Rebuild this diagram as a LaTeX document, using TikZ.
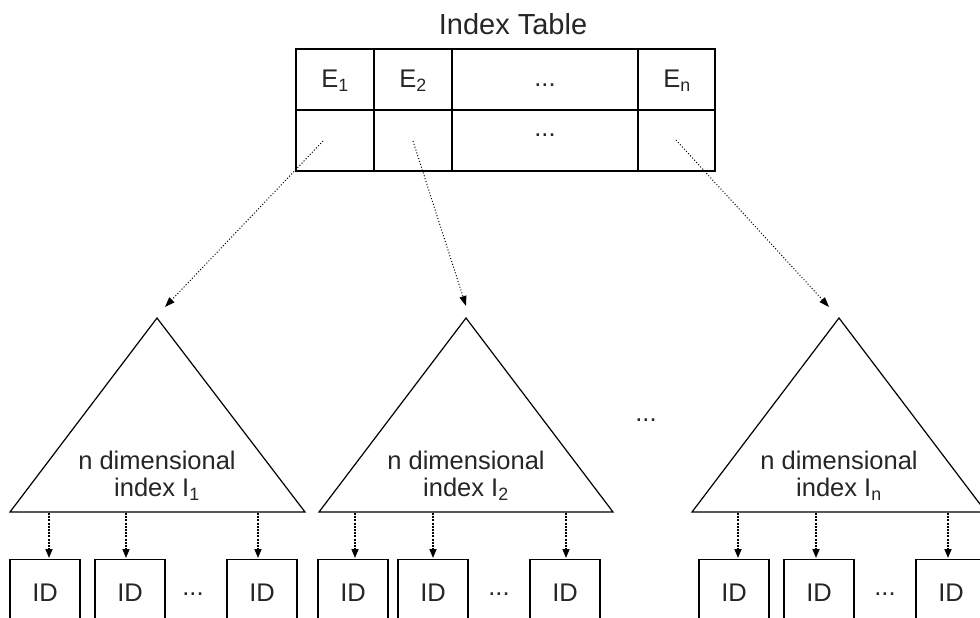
\documentclass[tikz,border=0pt]{standalone}
\usepackage{fontspec}
\setmainfont{Liberation Sans}
\usetikzlibrary{arrows.meta}
\begin{document}
\begin{tikzpicture}[x=1pt,y=-1pt,
  lbl/.style={font=\fontsize{25.5}{30}\selectfont, text=black!85, inner sep=0pt},
  frame/.style={draw=black, line width=1.2pt},
  ptr/.style={dotted, line width=1pt, -{Triangle[length=10pt,width=7pt]}},
  down/.style={line width=1.6pt, dash pattern=on 2pt off 1.2pt, -{Triangle[length=9pt,width=7pt]}},
  idbox/.style={draw=black, line width=1.2pt, minimum width=70pt, minimum height=80pt, anchor=north, inner sep=0pt}
]
\useasboundingbox (0,0) rectangle (980,618);
\clip (0,0) rectangle (980,618);
\fill[white] (0,0) rectangle (980,618);

% Index table
\node[lbl, font=\fontsize{29}{34}\selectfont] (title) at (513,24) {Index Table};
\draw[frame] (296,49) rectangle (715,171);
\draw[frame] (296,110) -- (715,110);
\draw[frame] (374,49) -- (374,171);
\draw[frame] (452,49) -- (452,171);
\draw[frame] (638,49) -- (638,171);
\node[lbl] (e1) at (335,81) {E\textsubscript{1}};
\node[lbl] (e2) at (413,81) {E\textsubscript{2}};
\node[lbl] (ed) at (545,85) {...};
\node[lbl] (en) at (677,81) {E\textsubscript{n}};
\node[lbl] (pd) at (545,135) {...};
\coordinate (p1) at (323,141);
\coordinate (p2) at (413,141);
\coordinate (pn) at (676,140);

% triangles
\coordinate (t1) at (157,318);
\coordinate (t2) at (466,318);
\coordinate (t3) at (839,318);
\draw[frame, line join=miter] (t1) -- (305,512) -- (10,512) -- cycle;
\draw[frame, line join=miter] (t2) -- (613,512) -- (319,512) -- cycle;
\draw[frame, line join=miter] (t3) -- (986,512) -- (692,512) -- cycle;

\node[lbl, align=center] (l1) at (157,476) {n dimensional\\[-3pt]index I\textsubscript{1}};
\node[lbl, align=center] (l2) at (466,476) {n dimensional\\[-3pt]index I\textsubscript{2}};
\node[lbl, align=center] (l3) at (839,476) {n dimensional\\[-3pt]index I\textsubscript{n}};
\node[lbl] (mid) at (646,420) {...};

\draw[ptr] (p1) -- ([shift={(8,-11)}]t1);
\draw[ptr] (p2) -- ([shift={(0,-12)}]t2);
\draw[ptr] (pn) -- ([shift={(-10,-11)}]t3);

% ID boxes
\foreach \n/\x in {a1/45, a2/130, a3/262, b1/353, b2/433, b3/565, c1/734, c2/819, c3/951}{
  \node[idbox] (\n) at (\x,559) {};
  \node[lbl] (\n t) at (\x,593) {ID};
}
\node[lbl] (ad) at (193,594) {...};
\node[lbl] (bd) at (499,594) {...};
\node[lbl] (cd) at (885,594) {...};

\foreach \n/\x in {a1/49, a2/126, a3/258, b1/355, b2/433, b3/566, c1/738, c2/816, c3/948}{
  \coordinate (s\n) at (\x,513);
  \draw[down] (s\n) -- (\x,558);
}
\end{tikzpicture}
\end{document}
